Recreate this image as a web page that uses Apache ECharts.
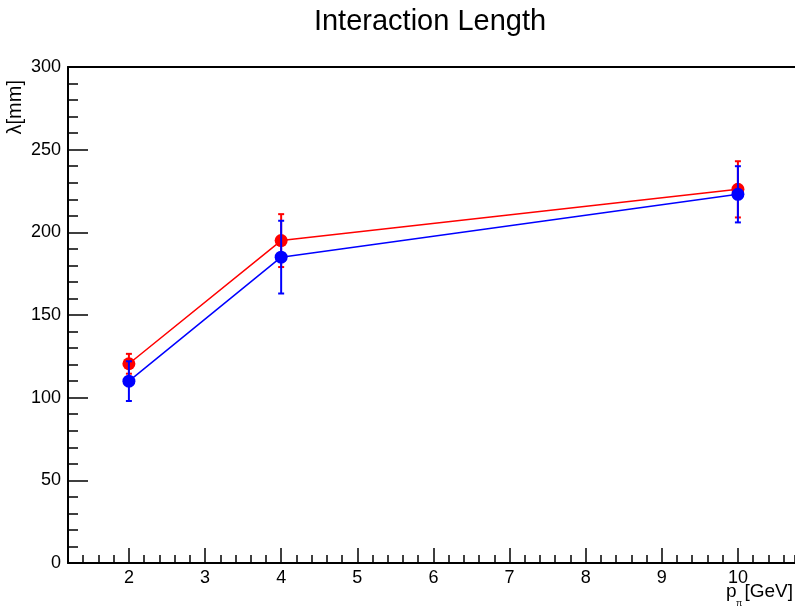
<!DOCTYPE html>
<html>
<head>
<meta charset="utf-8">
<script src="https://cdn.jsdelivr.net/npm/echarts@6/dist/echarts.min.js"></script>
<style>
html, body { margin: 0; padding: 0; background: #fff; }
#main { width: 795px; height: 610px; }
</style>
</head>
<body>
<div id="main"></div>
<script>
// beam momentum [GeV]
var momentum = [2, 4, 10];
// red set: lambda [mm] and error
var redLambda = [120.5, 195, 226];
var redErr = [6, 16, 17];
// blue set
var blueLambda = [110, 185, 223];
var blueErr = [12, 22, 17];

var FONT = '"Liberation Sans", Arial, Helvetica, sans-serif';
var X_MIN = 1.2, X_MAX = 10.75; // frame is cut at the canvas edge

function points(xs, ys) {
    return xs.map(function (x, i) { return [x, ys[i]]; });
}
function ranges(xs, ys, es) {
    return xs.map(function (x, i) { return [x, ys[i] - es[i], ys[i] + es[i]]; });
}

// vertical error bar with small caps
function errorSeries(data, color, z) {
    return {
        type: 'custom',
        z: z,
        silent: true,
        encode: { x: 0, y: [1, 2] },
        data: data,
        renderItem: function (params, api) {
            var lo = api.coord([api.value(0), api.value(1)]);
            var hi = api.coord([api.value(0), api.value(2)]);
            var w = 3;
            var st = { stroke: color, lineWidth: 2 };
            return {
                type: 'group',
                children: [
                    { type: 'line', shape: { x1: lo[0], y1: lo[1], x2: hi[0], y2: hi[1] }, style: st },
                    { type: 'line', shape: { x1: lo[0] - w, y1: lo[1], x2: lo[0] + w, y2: lo[1] }, style: st },
                    { type: 'line', shape: { x1: hi[0] - w, y1: hi[1], x2: hi[0] + w, y2: hi[1] }, style: st }
                ]
            };
        }
    };
}

function lineSeries(data, color, z) {
    return {
        type: 'line',
        z: z,
        data: data,
        symbol: 'circle',
        symbolSize: 13,
        lineStyle: { color: color, width: 1.5 },
        itemStyle: { color: color },
        animation: false
    };
}

var chart = echarts.init(document.getElementById('main'));

chart.setOption({
    animation: false,
    backgroundColor: '#fff',
    grid: { left: 68, top: 67, right: 0, bottom: 47, show: false },
    xAxis: [
        {
            type: 'value', min: X_MIN, max: X_MAX, splitNumber: 10,
            axisLine: { show: true, lineStyle: { color: '#000', width: 2 } },
            axisTick: { show: true, inside: true, length: 15, lineStyle: { color: '#000', width: 1.5 } },
            axisLabel: {
                color: '#000', fontSize: 18, fontFamily: FONT, margin: 6,
                showMinLabel: false, showMaxLabel: false,
                formatter: function (v) { return Number.isInteger(v) ? String(v) : ''; }
            },
            splitLine: { show: false }
        },
        {
            // minor ticks every 0.2
            type: 'value', min: X_MIN, max: X_MAX, interval: 0.2, position: 'bottom', offset: 0,
            axisLine: { show: false },
            axisTick: { show: true, inside: true, length: 8, lineStyle: { color: '#000', width: 1.5 } },
            axisLabel: { show: false },
            splitLine: { show: false }
        },
        {
            // top edge of the frame
            type: 'value', min: X_MIN, max: X_MAX, position: 'top',
            axisLine: { show: true, lineStyle: { color: '#000', width: 2 } },
            axisTick: { show: false }, axisLabel: { show: false }, splitLine: { show: false }
        }
    ],
    yAxis: {
        type: 'value', min: 0, max: 300, interval: 50,
        axisLine: { show: true, lineStyle: { color: '#000', width: 2 } },
        axisTick: { show: true, inside: true, length: 20, lineStyle: { color: '#000', width: 1.5 } },
        minorTick: { show: true, splitNumber: 5, length: 10, lineStyle: { color: '#000', width: 1.5 } },
        axisLabel: { color: '#000', fontSize: 18, fontFamily: FONT, margin: 7 },
        splitLine: { show: false }
    },
    series: [
        errorSeries(ranges(momentum, redLambda, redErr), '#ff0000', 2),
        lineSeries(points(momentum, redLambda), '#ff0000', 3),
        errorSeries(ranges(momentum, blueLambda, blueErr), '#0000ff', 4),
        lineSeries(points(momentum, blueLambda), '#0000ff', 5)
    ],
    graphic: [
        {
            type: 'text', x: 430, y: 22,
            style: { text: 'Interaction Length', fill: '#000', font: '29px ' + FONT, align: 'center', verticalAlign: 'middle' }
        },
        {
            type: 'text', x: 15, y: 80, rotation: Math.PI / 2,
            style: { text: 'λ[mm]', fill: '#000', font: '20px ' + FONT, align: 'right', verticalAlign: 'middle' }
        },
        {
            type: 'text', x: 726, y: 601,
            style: { text: 'p', fill: '#000', font: '19px ' + FONT, align: 'left', verticalAlign: 'bottom' }
        },
        {
            type: 'text', x: 736, y: 608,
            style: { text: 'π', fill: '#000', font: '9px ' + FONT, align: 'left', verticalAlign: 'bottom' }
        },
        {
            type: 'text', x: 793, y: 601,
            style: { text: '[GeV]', fill: '#000', font: '19px ' + FONT, align: 'right', verticalAlign: 'bottom' }
        }
    ]
});
</script>
</body>
</html>
